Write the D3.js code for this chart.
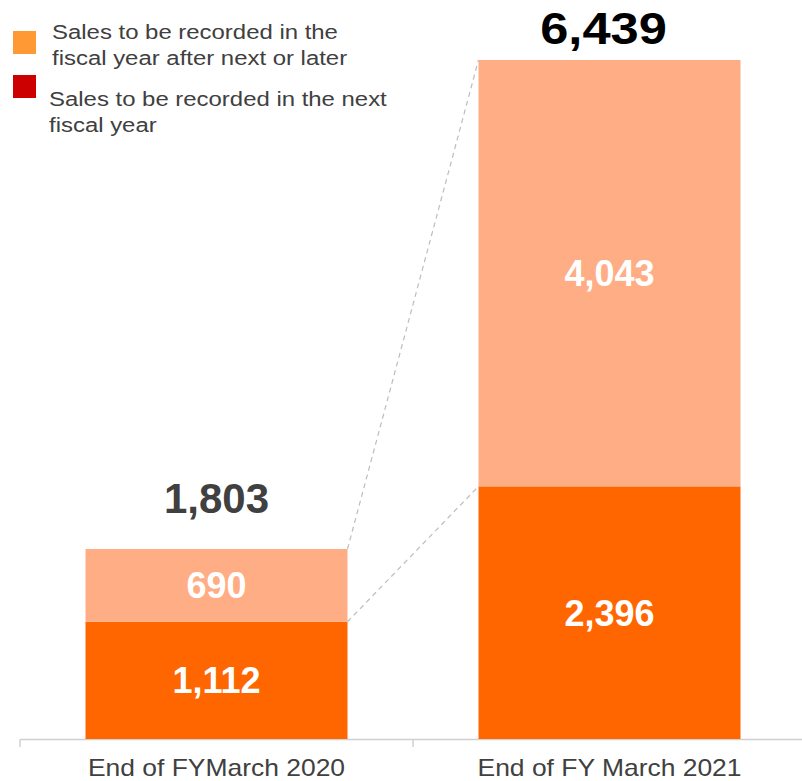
<!DOCTYPE html>
<html>
<head>
<meta charset="utf-8">
<script src="https://cdn.jsdelivr.net/npm/d3@7/dist/d3.min.js"></script>
<style>
  html, body { margin: 0; padding: 0; background: #fff; }
  svg { display: block; font-family: "Liberation Sans", Arial, sans-serif; }
</style>
</head>
<body>
<svg id="chart" width="802" height="781"></svg>
<script>
// Order backlog by recording period
const categories = ["End of FYMarch 2020", "End of FY March 2021"];
const nextYear = [1112, 2396];          // sales to be recorded in the next fiscal year
const laterYears = [690, 4043];         // sales to be recorded in the fiscal year after next or later
const totals = [1803, 6439];
const legendLabels = [
  ["Sales to be recorded in the", "fiscal year after next or later"],
  ["Sales to be recorded in the next", "fiscal year"]
];

const colors = { later: "#FFAD85", next: "#FF6600" };
const legendColors = ["#FF9933", "#CC0000"];

const svg = d3.select("#chart");

const x = d3.scaleBand().domain(categories).range([20, 806]).paddingInner(1/3).paddingOuter(1/6);
const xAxisScale = d3.scaleBand().domain(categories).range([20, 806]).padding(0);
const y = d3.scaleLinear().domain([0, 6439]).range([739, 60]);

const fmt = d3.format(",");

// axis line with boundary ticks
const axisG = svg.append("g").attr("stroke", "#D0D0D0").attr("stroke-width", 1.5);
axisG.append("line").attr("x1", 20).attr("x2", 802).attr("y1", 739.5).attr("y2", 739.5);
const boundaries = categories.map(c => xAxisScale(c)).concat([xAxisScale.range()[1]]);
axisG.selectAll("line.tick").data(boundaries).join("line")
  .attr("class", "tick")
  .attr("x1", d => d).attr("x2", d => d)
  .attr("y1", 739.5).attr("y2", 747);

// stacked bars
const rows = categories.map((c, i) => ({ c, next: nextYear[i], later: laterYears[i], total: totals[i] }));

svg.append("g").selectAll("rect").data(rows).join("rect")
  .attr("x", d => x(d.c)).attr("width", x.bandwidth())
  .attr("y", d => y(d.next)).attr("height", d => y(0) - y(d.next))
  .attr("fill", colors.next);

svg.append("g").selectAll("rect").data(rows).join("rect")
  .attr("x", d => x(d.c)).attr("width", x.bandwidth())
  .attr("y", d => y(d.next + d.later)).attr("height", d => y(d.next) - y(d.next + d.later))
  .attr("fill", colors.later);

// dashed connectors between the bars
const a = rows[0], b = rows[1];
const connectors = [
  [a.next + a.later, b.next + b.later],
  [a.next, b.next]
];
svg.append("g").selectAll("line").data(connectors).join("line")
  .attr("x1", x(a.c) + x.bandwidth()).attr("y1", d => y(d[0]))
  .attr("x2", x(b.c)).attr("y2", d => y(d[1]))
  .attr("stroke", "#BDBDBD").attr("stroke-width", 1.2)
  .attr("stroke-dasharray", "5,4");

// segment value labels
svg.append("g").selectAll("text").data(rows.flatMap(d => [
    { c: d.c, v: d.next, mid: (y(0) + y(d.next)) / 2 },
    { c: d.c, v: d.later, mid: (y(d.next) + y(d.next + d.later)) / 2 }
  ])).join("text")
  .attr("x", d => x(d.c) + x.bandwidth() / 2)
  .attr("y", d => d.mid)
  .attr("dy", "0.36em")
  .attr("text-anchor", "middle")
  .attr("fill", "#fff")
  .attr("font-weight", "bold")
  .attr("font-size", 36)
  .text(d => fmt(d.v));

// totals above each stack
svg.append("g").selectAll("g").data(rows).join("g")
  .attr("transform", (d, i) =>
    `translate(${x(d.c) + x.bandwidth() / 2 + (i ? -6 : 0)},${Math.max(y(d.total) - 36, 44)}) scale(${i ? 1.15 : 1},1)`)
  .append("text")
  .attr("text-anchor", "middle")
  .attr("font-weight", "bold")
  .attr("fill", (d, i) => i ? "#000" : "#404040")
  .attr("font-size", (d, i) => i ? 44 : 42)
  .text(d => fmt(d.total));

// category labels
svg.append("g").selectAll("g").data(categories).join("g")
  .attr("transform", d => `translate(${x(d) + x.bandwidth() / 2},776) scale(1.15,1)`)
  .append("text")
  .attr("text-anchor", "middle")
  .attr("fill", "#404040")
  .attr("font-size", 23)
  .text(d => d);

// legend
const legend = svg.append("g");
const legendPos = [{ sy: 31, tx: 52, ty: 39 }, { sy: 75, tx: 49, ty: 106 }];
legendLabels.forEach((lines, i) => {
  const p = legendPos[i];
  legend.append("rect").attr("x", 13).attr("y", p.sy).attr("width", 23).attr("height", 23)
    .attr("fill", legendColors[i]);
  const t = legend.append("g")
    .attr("transform", `translate(${p.tx},${p.ty}) scale(1.14,1)`)
    .append("text")
    .attr("fill", "#404040").attr("font-size", 21);
  lines.forEach((ln, j) => {
    t.append("tspan").attr("x", 0).attr("dy", j ? 26 : 0).text(ln);
  });
});
</script>
</body>
</html>
